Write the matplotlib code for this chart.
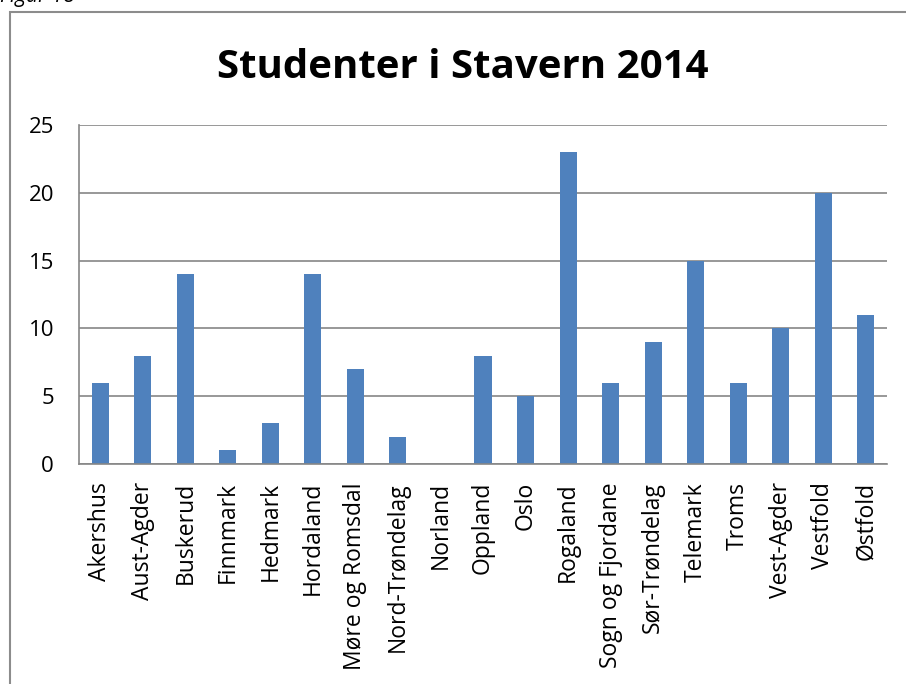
import matplotlib as mpl
mpl.use('Agg')
from matplotlib import pyplot as plt
from matplotlib.patches import Rectangle

# data
fylker = ['Akershus', 'Aust-Agder', 'Buskerud', 'Finnmark', 'Hedmark', 'Hordaland',
          'Møre og Romsdal', 'Nord-Trøndelag', 'Norland', 'Oppland', 'Oslo', 'Rogaland',
          'Sogn og Fjordane', 'Sør-Trøndelag', 'Telemark', 'Troms', 'Vest-Agder',
          'Vestfold', 'Østfold']
studenter = [6, 8, 14, 1, 3, 14, 7, 2, 0, 8, 5, 23, 6, 9, 15, 6, 10, 20, 11]
y_ticks = [0, 5, 10, 15, 20, 25]

W, H = 906, 684
plt.rcParams['font.family'] = ['Open Sans', 'DejaVu Sans']

fig = plt.figure(figsize=(W / 100, H / 100), dpi=100)

# chart frame (runs off the right/bottom of the image)
fig.patches.append(Rectangle((10 / W, -0.05), 1.0, 1 - 12 / H + 0.05,
                             transform=fig.transFigure, fill=False,
                             edgecolor='#8c8c8c', linewidth=1.5))
fig.text(0 / W, 1 - 2 / H, 'Figur 18', fontsize=15, style='italic', va='baseline')
fig.text(463 / W, 1 - 78 / H, 'Studenter i Stavern 2014', fontsize=29,
         fontweight='bold', ha='center', va='baseline')

ax = fig.add_axes([79 / W, (H - 464) / H, (887 - 79) / W, (464 - 125) / H])
x = range(len(fylker))
ax.bar(x, studenter, width=0.4, color='#4f81bd')
ax.set_xlim(-0.5, len(fylker) - 0.5)
ax.set_ylim(0, 25)
ax.set_yticks(y_ticks)
ax.set_xticks(list(x))
ax.set_xticklabels(fylker, rotation=90, fontsize=16.5)
ax.tick_params(axis='y', labelsize=16, length=0, pad=18)
ax.tick_params(axis='x', length=0, pad=13)
ax.grid(axis='y', color='#868686', linewidth=1.2)
ax.set_axisbelow(True)
for s in ['top', 'right']:
    ax.spines[s].set_visible(False)
for s in ['left', 'bottom']:
    ax.spines[s].set_color('#868686')
    ax.spines[s].set_linewidth(1.2)

plt.savefig('out.png', dpi=100)
